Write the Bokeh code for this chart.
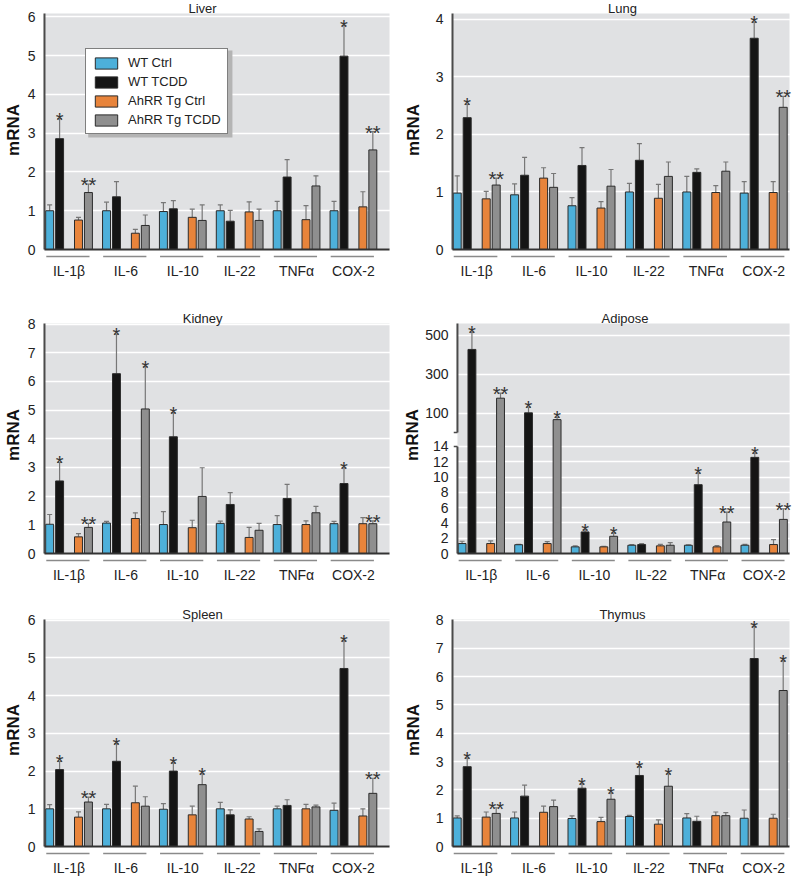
import numpy as np
from bokeh.plotting import figure
from bokeh.models import Range1d, FixedTicker, Legend, LegendItem
from bokeh.layouts import row, column
from bokeh.core.properties import value
from bokeh.embed import file_html
from bokeh.resources import INLINE

# ---------------- data ----------------
GENES = ["IL-1β", "IL-6", "IL-10", "IL-22", "TNFα", "COX-2"]
GROUPS = ["WT Ctrl", "WT TCDD", "AhRR Tg Ctrl", "AhRR Tg TCDD"]

# rows: WT Ctrl, WT TCDD, AhRR Tg Ctrl, AhRR Tg TCDD
liver_mean = [[1.00, 1.00, 0.98, 1.00, 1.00, 1.00],
              [2.86, 1.36, 1.05, 0.73, 1.87, 4.99],
              [0.76, 0.42, 0.83, 0.97, 0.77, 1.10],
              [1.47, 0.62, 0.75, 0.75, 1.64, 2.57]]
liver_sem = [[0.15, 0.22, 0.23, 0.15, 0.24, 0.24],
             [0.52, 0.39, 0.21, 0.28, 0.45, 0.79],
             [0.07, 0.10, 0.21, 0.26, 0.36, 0.39],
             [0.22, 0.27, 0.40, 0.29, 0.26, 0.47]]
liver_star_wt = ["*", "", "", "", "", "*"]
liver_star_tg = ["**", "", "", "", "", "**"]

lung_mean = [[0.98, 0.95, 0.76, 1.00, 1.00, 0.98],
             [2.29, 1.29, 1.46, 1.55, 1.34, 3.67],
             [0.88, 1.24, 0.72, 0.89, 0.99, 0.99],
             [1.12, 1.08, 1.10, 1.27, 1.36, 2.47]]
lung_sem = [[0.30, 0.19, 0.14, 0.15, 0.27, 0.20],
            [0.23, 0.31, 0.31, 0.29, 0.06, 0.28],
            [0.13, 0.18, 0.11, 0.24, 0.12, 0.19],
            [0.12, 0.24, 0.29, 0.25, 0.16, 0.19]]
lung_star_wt = ["*", "", "", "", "", "*"]
lung_star_tg = ["**", "", "", "", "", "**"]

kidney_mean = [[1.02, 1.06, 1.01, 1.05, 1.01, 1.04],
               [2.53, 6.27, 4.07, 1.71, 1.92, 2.44],
               [0.58, 1.22, 0.90, 0.56, 1.01, 1.04],
               [0.91, 5.04, 1.99, 0.81, 1.42, 1.04]]
kidney_sem = [[0.34, 0.06, 0.45, 0.08, 0.31, 0.08],
              [0.65, 1.38, 0.84, 0.41, 0.49, 0.55],
              [0.11, 0.20, 0.26, 0.35, 0.13, 0.21],
              [0.14, 1.48, 1.00, 0.24, 0.22, 0.10]]
kidney_star_wt = ["*", "*", "*", "", "", "*"]
kidney_star_tg = ["**", "*", "", "", "", "**"]

adipose_mean = [[1.30, 1.15, 0.87, 1.08, 1.08, 1.08],
                [428.0, 103.0, 2.82, 1.17, 9.00, 12.57],
                [1.30, 1.30, 0.87, 1.00, 0.87, 1.17],
                [178.0, 68.0, 2.25, 1.08, 4.12, 4.46]]
adipose_sem = [[0.30, 0.05, 0.13, 0.10, 0.05, 0.12],
               [89.0, 29.0, 0.30, 0.13, 1.50, 0.56],
               [0.35, 0.26, 0.08, 0.20, 0.17, 0.65],
               [26.0, 12.0, 0.44, 0.35, 1.30, 1.39]]
adipose_star_wt = ["*", "*", "*", "", "*", "*"]
adipose_star_tg = ["**", "*", "*", "", "**", "**"]

spleen_mean = [[1.00, 1.00, 0.99, 1.00, 1.00, 0.96],
               [2.04, 2.26, 2.00, 0.84, 1.09, 4.72],
               [0.78, 1.16, 0.84, 0.73, 1.00, 0.81],
               [1.18, 1.07, 1.64, 0.40, 1.05, 1.41]]
spleen_sem = [[0.11, 0.12, 0.15, 0.17, 0.07, 0.19],
              [0.22, 0.47, 0.22, 0.13, 0.15, 0.73],
              [0.14, 0.44, 0.23, 0.06, 0.12, 0.19],
              [0.13, 0.25, 0.29, 0.07, 0.05, 0.40]]
spleen_star_wt = ["*", "*", "*", "", "", "*"]
spleen_star_tg = ["**", "", "*", "", "", "**"]

thymus_mean = [[1.01, 1.01, 0.99, 1.06, 1.01, 1.00],
               [2.82, 1.78, 2.06, 2.51, 0.89, 6.64],
               [1.04, 1.21, 0.88, 0.79, 1.09, 1.00],
               [1.17, 1.41, 1.67, 2.13, 1.09, 5.51]]
thymus_sem = [[0.07, 0.21, 0.09, 0.04, 0.15, 0.29],
              [0.30, 0.39, 0.15, 0.31, 0.18, 1.13],
              [0.18, 0.22, 0.15, 0.15, 0.13, 0.14],
              [0.20, 0.23, 0.22, 0.44, 0.11, 1.05]]
thymus_star_wt = ["*", "", "*", "*", "", "*"]
thymus_star_tg = ["**", "", "*", "*", "", "*"]

liver_ticks = [0, 1, 2, 3, 4, 5, 6]
lung_ticks = [0, 1, 2, 3, 4]
kidney_ticks = [0, 1, 2, 3, 4, 5, 6, 7, 8]
adipose_ticks = [0, 2, 4, 6, 8, 10, 12, 14, 100, 300, 500]
spleen_ticks = [0, 1, 2, 3, 4, 5, 6]
thymus_ticks = [0, 1, 2, 3, 4, 5, 6, 7, 8]

# ---------------- style / layout ----------------
COLORS = ["#4DB0DA", "#151515", "#E8843B", "#8F8F8F"]
BG = "#E0E1E3"
ERR = "#777777"
OUTL = "#2b2b2b"
AXC = "#4a4a4a"
FONT = "Liberation Sans Narrow, Arial Narrow, Liberation Sans, sans-serif"

HG = {
    "L": dict(fig_left=0, width=400, axis=42, frame_left=38, gray_right=389, frame_right=395,
              first=24.7, pitch=57.2),
    "R": dict(fig_left=400, width=400, axis=452, frame_left=448, gray_right=789, frame_right=795,
              first=24.2, pitch=57.4),
}
VG = {
    1: dict(fig_top=0, frame_top=0, gray_top=13, zero=249, frame_bottom=259, fig_bottom=296),
    2: dict(fig_top=296, frame_top=306, gray_top=323, zero=553, frame_bottom=563, fig_bottom=592),
    3: dict(fig_top=592, frame_top=603, gray_top=619, zero=847, frame_bottom=857, fig_bottom=878),
}
TITLE_X = {"L": 201, "R": 622}
OFFS = [-19.5, -9.5, 9.5, 19.5]
BAR_W = 8.0
LEGEND_BOX = (83, 47, 228, 134)   # page px: left, top, right, bottom (for its shadow)

ADI_BREAK = 15.83


def adipose_y(v):
    v = np.asarray(v, dtype=float)
    return np.where(v <= 14, v, 18.32 + (v - 100.0) * 0.0255)


def ident(v):
    return np.asarray(v, dtype=float)


def panel(name, means, sems, star_wt, star_tg, col, r, ticks, top, lab_standoff,
          fmap=ident, legend=False, broken=False):
    hg, vg = HG[col], VG[r]
    pitch = hg["pitch"]
    t_top = float(fmap([top])[0])
    ppu = (vg["zero"] - vg["gray_top"]) / t_top
    first = hg["axis"] + hg["first"]

    def dx(px):
        return (px - first) / pitch

    def dy(py):
        return (vg["zero"] - py) / ppu

    xs, xe, xg, xa = dx(hg["frame_left"]), dx(hg["frame_right"]), dx(hg["gray_right"]), dx(hg["axis"])
    ys, ye = dy(vg["frame_bottom"]), dy(vg["frame_top"])

    p = figure(width=hg["width"], height=vg["fig_bottom"] - vg["fig_top"],
               x_range=Range1d(xs, xe), y_range=Range1d(ys, ye),
               output_backend="svg", toolbar_location=None,
               min_border_left=hg["frame_left"] - hg["fig_left"],
               min_border_right=hg["fig_left"] + hg["width"] - hg["frame_right"],
               min_border_top=vg["frame_top"] - vg["fig_top"],
               min_border_bottom=vg["fig_bottom"] - vg["frame_bottom"],
               background_fill_color="white", border_fill_color="white",
               outline_line_color=None)

    # plot-area background
    p.quad(left=[xa], right=[xg], bottom=[0], top=[t_top], fill_color=BG,
           line_color=None, level="image")

    centers = np.arange(len(GENES), dtype=float)
    rends = []
    for k in range(4):
        x = centers + OFFS[k] / pitch
        m = np.asarray(means[k], dtype=float)
        e = m + np.asarray(sems[k], dtype=float)
        ym, yerr = fmap(m), fmap(e)
        p.segment(x0=x, y0=ym, x1=x, y1=yerr, line_color=ERR, line_width=1.2)
        p.scatter(x=x, y=yerr, marker="dash", size=5, line_color=ERR, line_width=1.2)
        rr = p.vbar(x=x, width=BAR_W / pitch, bottom=0, top=ym,
                    fill_color=COLORS[k], line_color=OUTL, line_width=1)
        rends.append(rr)
        stars = star_wt if k == 1 else (star_tg if k == 3 else None)
        if stars:
            p.text(x=x, y=yerr, text=stars, y_offset=1, text_align="center",
                   text_baseline="alphabetic", text_font=value(FONT),
                   text_font_size="20px", text_color="#333333")

    # axis lines drawn in the frame
    if broken:
        p.segment(x0=[xa, xa], y0=[0, ADI_BREAK], x1=[xa, xa], y1=[14, t_top],
                  line_color=AXC, line_width=2)
        p.segment(x0=[xa - 4 / pitch] * 2, y0=[14, ADI_BREAK], x1=[xa] * 2,
                  y1=[14, ADI_BREAK], line_color=AXC, line_width=1.5)
    else:
        p.segment(x0=[xa], y0=[0], x1=[xa], y1=[t_top], line_color=AXC, line_width=2)
    p.segment(x0=[xa], y0=[0], x1=[xg], y1=[0], line_color="#333333", line_width=2)

    # underlines of gene groups
    uy = -7.0 / ppu
    p.segment(x0=centers - 0.40, y0=uy, x1=centers + 0.36, y1=uy,
              line_color="#8a8a8a", line_width=1.3)

    # panel title
    p.text(x=[dx(TITLE_X[col])], y=[t_top], text=[name], y_offset=-5, text_align="center",
           text_baseline="middle", text_font=value(FONT), text_font_size="13px",
           text_color="#222222")

    # x axis: gene labels
    p.xgrid.visible = False
    p.xaxis.ticker = FixedTicker(ticks=list(range(len(GENES))), minor_ticks=[])
    p.xaxis.major_label_overrides = {i: g for i, g in enumerate(GENES)}
    p.xaxis.axis_line_color = None
    p.xaxis.major_tick_line_color = None
    p.xaxis.minor_tick_line_color = None
    p.xaxis.major_tick_out = 0
    p.xaxis.major_tick_in = 0
    p.xaxis.minor_tick_out = 0
    p.xaxis.major_label_standoff = 3
    p.xaxis.major_label_text_font = FONT
    p.xaxis.major_label_text_font_size = "14px"
    p.xaxis.major_label_text_color = "#222222"

    # y axis
    tk = [float(t) for t in fmap(ticks)]
    p.yaxis.ticker = FixedTicker(ticks=tk, minor_ticks=[])
    p.yaxis.major_label_overrides = {t: str(v) for t, v in zip(tk, ticks)}
    p.yaxis.axis_line_color = None
    p.yaxis.major_tick_line_color = None
    p.yaxis.minor_tick_line_color = None
    p.yaxis.major_tick_out = 0
    p.yaxis.major_tick_in = 0
    p.yaxis.minor_tick_out = 0
    p.yaxis.major_label_standoff = 5
    p.yaxis.major_label_text_font = FONT
    p.yaxis.major_label_text_font_size = "14px"
    p.yaxis.major_label_text_color = "#222222"
    p.yaxis.axis_label = "mRNA"
    p.yaxis.axis_label_text_font = FONT
    p.yaxis.axis_label_text_font_style = "bold"
    p.yaxis.axis_label_text_font_size = "17px"
    p.yaxis.axis_label_text_color = "#111111"
    p.yaxis.axis_label_standoff = lab_standoff

    p.ygrid.grid_line_color = "white"
    p.ygrid.grid_line_width = 1.5

    if legend:
        l, t, rgt, b = LEGEND_BOX
        # soft drop shadow behind the legend box
        p.quad(left=[dx(l + 3)], right=[dx(rgt + 3)], top=[dy(t + 3)], bottom=[dy(b + 3)],
               fill_color="#b4b4b4", line_color=None)
        lg = Legend(items=[LegendItem(label=g, renderers=[rr]) for g, rr in zip(GROUPS, rends)],
                    location=(l - hg["frame_left"], vg["frame_bottom"] - b),
                    border_line_color="black", border_line_width=1.5,
                    background_fill_color="white", background_fill_alpha=1.0,
                    label_text_font=FONT, label_text_font_size="13px",
                    label_text_color="#222222", glyph_width=28, glyph_height=14,
                    label_height=14, spacing=4, padding=6, margin=0, label_standoff=8)
        p.add_layout(lg)
    return p


liver = panel("Liver", liver_mean, liver_sem, liver_star_wt, liver_star_tg, "L", 1,
              liver_ticks, 6.09, 2, legend=True)
lung = panel("Lung", lung_mean, lung_sem, lung_star_wt, lung_star_tg, "R", 1,
             lung_ticks, 4.1, 10)
kidney = panel("Kidney", kidney_mean, kidney_sem, kidney_star_wt, kidney_star_tg, "L", 2,
               kidney_ticks, 8.02, 2)
adipose = panel("Adipose", adipose_mean, adipose_sem, adipose_star_wt, adipose_star_tg, "R", 2,
                adipose_ticks, 561, 0, fmap=adipose_y, broken=True)
spleen = panel("Spleen", spleen_mean, spleen_sem, spleen_star_wt, spleen_star_tg, "L", 3,
               spleen_ticks, 6.02, 2)
thymus = panel("Thymus", thymus_mean, thymus_sem, thymus_star_wt, thymus_star_tg, "R", 3,
               thymus_ticks, 8.02, 10)

layout = column(row(liver, lung), row(kidney, adipose), row(spleen, thymus))

with open("out.html", "w") as fh:
    fh.write(file_html(layout, INLINE, "mRNA"))
